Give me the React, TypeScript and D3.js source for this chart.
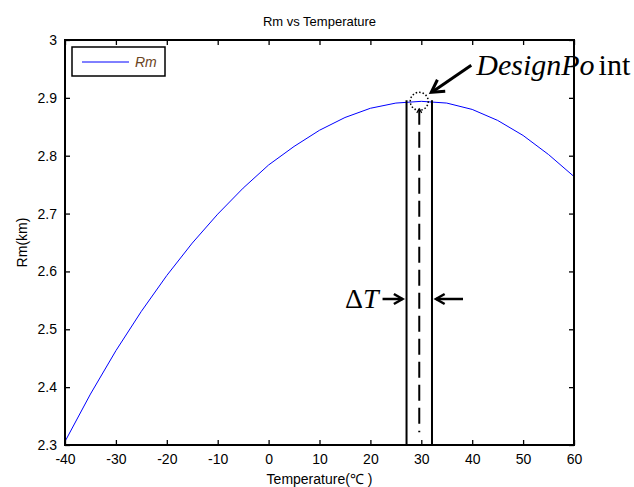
import React, { useEffect, useRef } from 'react';
import * as d3 from 'd3';

// temperature (°C) and Rm (km)
const temperatures = [-40, -35, -30, -25, -20, -15, -10, -5, 0, 5, 10, 15, 20, 25, 30, 35, 40, 45, 50, 55, 60];
const rmValues = [2.306, 2.388, 2.463, 2.531, 2.593, 2.649, 2.699, 2.744, 2.784, 2.816, 2.844, 2.866, 2.882, 2.891, 2.894, 2.891, 2.880, 2.861, 2.835, 2.802, 2.764];
const xTickValues = [-40, -30, -20, -10, 0, 10, 20, 30, 40, 50, 60];
const yTickValues = [2.3, 2.4, 2.5, 2.6, 2.7, 2.8, 2.9, 3];

// annotation: design point and the ΔT band around it
const designTemp = 29.6;
const designRm = 2.894;
const bandHalfWidth = 2.5;
const dashedFrom = 2.881;
const dashedTo = 2.322;

export default function App() {
  const chartRef = useRef<SVGSVGElement>(null);

  useEffect(() => {
    const svg = d3.select(chartRef.current);
    svg.selectAll('*').remove();

    const left = 65, right = 574, top = 40, bottom = 445;
    const font = "'Liberation Sans', Arial, sans-serif";
    const serif = "'Liberation Serif', 'Times New Roman', serif";

    const x = d3.scaleLinear().domain([-40, 60]).range([left, right]);
    const y = d3.scaleLinear().domain([2.3, 3]).range([bottom, top]);

    svg.append('rect').attr('width', 634).attr('height', 487).attr('fill', '#fff');

    // axes, ticks pointing inward on all sides
    const styleAxis = (g: any) => {
      g.select('.domain').remove();
      g.selectAll('line').attr('stroke', '#000').attr('stroke-width', 1.3);
      g.selectAll('text').attr('fill', '#000').attr('font-family', font).attr('font-size', 14);
    };
    const plainNum = (d: any) => String(d);
    svg.append('g').attr('transform', `translate(0,${bottom})`)
      .call(d3.axisBottom(x).tickValues(xTickValues).tickSizeInner(-5).tickSizeOuter(0).tickPadding(9).tickFormat(plainNum))
      .call(styleAxis);
    svg.append('g').attr('transform', `translate(0,${top})`)
      .call(d3.axisTop(x).tickValues(xTickValues).tickSizeInner(-5).tickSizeOuter(0).tickFormat(() => ''))
      .call(styleAxis);
    svg.append('g').attr('transform', `translate(${left},0)`)
      .call(d3.axisLeft(y).tickValues(yTickValues).tickSizeInner(-5).tickSizeOuter(0).tickPadding(8).tickFormat(plainNum))
      .call(styleAxis);
    svg.append('g').attr('transform', `translate(${right},0)`)
      .call(d3.axisRight(y).tickValues(yTickValues).tickSizeInner(-5).tickSizeOuter(0).tickFormat(() => ''))
      .call(styleAxis);

    // the curve
    const line = d3.line<number>()
      .x((d, i) => x(temperatures[i]))
      .y(d => y(d));
    svg.append('path')
      .datum(rmValues)
      .attr('d', line)
      .attr('fill', 'none')
      .attr('stroke', '#0000ff')
      .attr('stroke-width', 1);

    // ΔT band edges
    [designTemp - bandHalfWidth, designTemp + bandHalfWidth].forEach(t => {
      svg.append('line')
        .attr('x1', x(t)).attr('x2', x(t))
        .attr('y1', y(designRm) - 1).attr('y2', bottom)
        .attr('stroke', '#000').attr('stroke-width', 2);
    });

    // dashed centre line with a small up arrow
    const cx = x(designTemp);
    svg.append('line')
      .attr('x1', cx).attr('x2', cx)
      .attr('y1', y(dashedFrom)).attr('y2', y(dashedTo))
      .attr('stroke', '#000').attr('stroke-width', 2)
      .attr('stroke-dasharray', '16,7');
    svg.append('path')
      .attr('d', `M${cx - 2.5},${y(dashedFrom) + 4}L${cx},${y(dashedFrom)}L${cx + 2.5},${y(dashedFrom) + 4}`)
      .attr('fill', 'none').attr('stroke', '#000').attr('stroke-width', 1.2);

    // dotted circle at the design point
    svg.append('circle')
      .attr('cx', cx).attr('cy', y(designRm))
      .attr('r', 9)
      .attr('fill', 'none').attr('stroke', '#000').attr('stroke-width', 1.5)
      .attr('stroke-dasharray', '1.5,2');

    const chevron = (tx: number, ty: number, fx: number, fy: number, len: number) => {
      const a = Math.atan2(fy - ty, fx - tx);
      const s = Math.PI / 6;
      return `M${tx + len * Math.cos(a + s)},${ty + len * Math.sin(a + s)}L${tx},${ty}L${tx + len * Math.cos(a - s)},${ty + len * Math.sin(a - s)}`;
    };

    // arrow to "DesignPoint"
    const tipX = cx + 12, tipY = y(designRm) - 9;
    const tailX = tipX + 40, tailY = tipY - 27;
    svg.append('line')
      .attr('x1', tipX + 2).attr('y1', tipY - 1).attr('x2', tailX).attr('y2', tailY)
      .attr('stroke', '#000').attr('stroke-width', 3);
    svg.append('path')
      .attr('d', chevron(tipX, tipY, tailX, tailY, 14))
      .attr('fill', 'none').attr('stroke', '#000').attr('stroke-width', 3).attr('stroke-linejoin', 'miter');

    const label = svg.append('text')
      .attr('x', tailX + 5).attr('y', tailY + 10)
      .attr('font-family', serif).attr('font-size', 30).attr('fill', '#000');
    label.append('tspan').attr('font-style', 'italic').text('DesignPo');
    label.append('tspan').attr('dx', 4).text('int');

    // ΔT arrows
    const arrowY = 299;
    const lx = x(designTemp - bandHalfWidth) - 4;
    const rx = x(designTemp + bandHalfWidth) + 4;
    svg.append('line').attr('x1', lx - 20).attr('x2', lx).attr('y1', arrowY).attr('y2', arrowY)
      .attr('stroke', '#000').attr('stroke-width', 2.5);
    svg.append('path').attr('d', chevron(lx, arrowY, lx - 20, arrowY, 10))
      .attr('fill', 'none').attr('stroke', '#000').attr('stroke-width', 2.5);
    svg.append('line').attr('x1', rx).attr('x2', rx + 27).attr('y1', arrowY).attr('y2', arrowY)
      .attr('stroke', '#000').attr('stroke-width', 2.5);
    svg.append('path').attr('d', chevron(rx, arrowY, rx + 27, arrowY, 10))
      .attr('fill', 'none').attr('stroke', '#000').attr('stroke-width', 2.5);

    const dt = svg.append('text')
      .attr('x', lx - 24).attr('y', 308).attr('text-anchor', 'end')
      .attr('font-family', serif).attr('font-size', 28).attr('fill', '#000');
    dt.append('tspan').text('Δ');
    dt.append('tspan').attr('font-style', 'italic').text('T');

    // frame
    svg.append('rect')
      .attr('x', left).attr('y', top)
      .attr('width', right - left).attr('height', bottom - top)
      .attr('fill', 'none').attr('stroke', '#000').attr('stroke-width', 2);

    // legend
    const legend = svg.append('g');
    legend.append('rect')
      .attr('x', 72).attr('y', 47).attr('width', 93).attr('height', 29)
      .attr('fill', '#fff').attr('stroke', '#000').attr('stroke-width', 1.5);
    legend.append('line')
      .attr('x1', 82).attr('x2', 129).attr('y1', 62).attr('y2', 62)
      .attr('stroke', '#0000ff').attr('stroke-width', 1);
    legend.append('text')
      .attr('x', 135).attr('y', 67)
      .attr('font-family', font).attr('font-size', 14).attr('font-style', 'italic')
      .attr('fill', '#6b4423').text('Rm');

    // titles
    svg.append('text')
      .attr('x', (left + right) / 2).attr('y', 26).attr('text-anchor', 'middle')
      .attr('font-family', font).attr('font-size', 13).attr('fill', '#000')
      .text('Rm vs Temperature');
    svg.append('text')
      .attr('x', (left + right) / 2).attr('y', 484).attr('text-anchor', 'middle')
      .attr('font-family', font).attr('font-size', 14).attr('fill', '#000')
      .text('Temperature(℃ )');
    svg.append('text')
      .attr('transform', `translate(27,${(top + bottom) / 2}) rotate(-90)`)
      .attr('text-anchor', 'middle')
      .attr('font-family', font).attr('font-size', 14).attr('fill', '#000')
      .text('Rm(km)');
  }, []);

  return (
    <svg ref={chartRef} width={634} height={487} style={{ position: 'absolute', left: 0, top: 0 }}></svg>
  );
}
